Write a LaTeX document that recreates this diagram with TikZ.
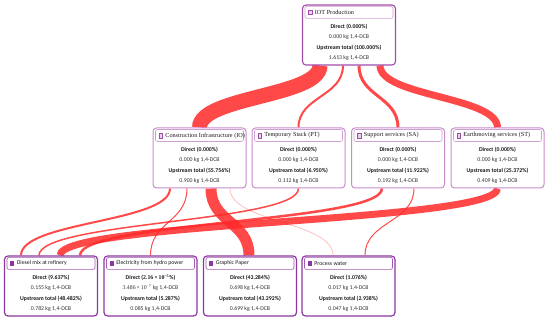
\documentclass[tikz,border=0pt]{standalone}
\usepackage{fontspec}
\setmainfont{Liberation Serif}
\newfontfamily\bodyf{Carlito}
\usetikzlibrary{calc}
\pgfdeclarelayer{bg}
\pgfsetlayers{bg,main}
\definecolor{flowred}{RGB}{255,40,40}
\definecolor{purA}{RGB}{160,75,170}
\definecolor{purB}{RGB}{200,140,205}
\definecolor{purC}{RGB}{140,55,160}
\definecolor{hdrlA}{RGB}{205,160,210}
\definecolor{hdrlC}{RGB}{160,90,175}
\definecolor{txtgray}{RGB}{50,50,50}
\newcommand\pbox[8]{%
  \node[box#3] (#1) at (#2) {};
  \node[hdr#3] (#1-h) at ($(#1.north)+(0,-8)$) {};
  \node[icon#3] (#1-i) at ($(#1-h.west)+(5.5,0)$) {};
  \node[title#3] (#1-t) at ($(#1-h.west)+(10,0)$) {#4};
  \node[txtb] (#1-a) at ($(#1.north)+(0,-22)$) {#5};
  \node[txtn] (#1-b) at ($(#1.north)+(0,-32.5)$) {#6};
  \node[txtb] (#1-c) at ($(#1.north)+(0,-43)$) {#7};
  \node[txtn] (#1-d) at ($(#1.north)+(0,-53.5)$) {#8};
}
\begin{document}
\begin{tikzpicture}[x=1pt,y=1pt,
  boxA/.style={draw=purA, line width=1.1pt, rounded corners=3.5pt, fill=white, minimum width=93pt, minimum height=60pt, inner sep=0pt},
  boxB/.style={draw=purB, line width=1pt, rounded corners=3.5pt, fill=white, minimum width=93pt, minimum height=60pt, inner sep=0pt},
  boxC/.style={draw=purC, line width=1.2pt, rounded corners=3.5pt, fill=white, minimum width=93pt, minimum height=60pt, inner sep=0pt},
  hdrA/.style={draw=hdrlA, line width=0.6pt, rounded corners=2pt, fill=white, minimum width=88pt, minimum height=12pt, inner sep=0pt},
  hdrB/.style={hdrA},
  hdrC/.style={draw=hdrlC, line width=0.6pt, rounded corners=2pt, fill=white, minimum width=88pt, minimum height=12pt, inner sep=0pt},
  iconA/.style={draw=purA, fill=purB!40, line width=0.5pt, minimum width=3.6pt, minimum height=4.6pt, inner sep=0pt},
  iconB/.style={iconA},
  iconC/.style={fill=purC, minimum width=4.2pt, minimum height=4.6pt, inner sep=0pt},
  titleA/.style={font=\rmfamily\fontsize{6.2}{7}\selectfont, inner sep=0pt, anchor=west, text=black!90},
  titleB/.style={titleA},
  titleC/.style={font=\bodyf\fontsize{5.8}{6.5}\selectfont, inner sep=0pt, anchor=west, text=black!90},
  txtb/.style={font=\bodyf\bfseries\fontsize{5.8}{6.5}\selectfont, inner sep=0pt, text=black!90},
  txtn/.style={font=\bodyf\fontsize{5.8}{6.5}\selectfont, inner sep=0pt, text=txtgray},
  flow/.style={draw=flowred, draw opacity=0.85, line cap=butt},
  paleflow/.style={draw=flowred, draw opacity=0.3, line cap=butt}]
\useasboundingbox (0,0) rectangle (550,320);
% top
\pbox{top}{349,285}{A}{IOT Production}{Direct (0.000\%)}{0.000 kg 1,4-DCB}{Upstream total (100.000\%)}{1.613 kg 1,4-DCB}
% middle
\pbox{io}{199.5,162}{B}{Construction Infrastructure (IO)}{Direct (0.000\%)}{0.000 kg 1,4-DCB}{Upstream total (55.756\%)}{0.900 kg 1,4-DCB}
\pbox{pt}{298.5,162}{B}{Temporary Stack (PT)}{Direct (0.000\%)}{0.000 kg 1,4-DCB}{Upstream total (6.950\%)}{0.112 kg 1,4-DCB}
\pbox{sa}{398,162}{B}{Support services (SA)}{Direct (0.000\%)}{0.000 kg 1,4-DCB}{Upstream total (11.922\%)}{0.192 kg 1,4-DCB}
\pbox{st}{497.5,162}{B}{Earthmoving services (ST)}{Direct (0.000\%)}{0.000 kg 1,4-DCB}{Upstream total (25.372\%)}{0.409 kg 1,4-DCB}
% bottom
\pbox{dm}{51,34}{C}{Diesel mix at refinery}{Direct (9.637\%)}{0.155 kg 1,4-DCB}{Upstream total (48.482\%)}{0.782 kg 1,4-DCB}
\pbox{el}{150.5,34}{C}{Electricity from hydro power}{Direct ({\rmfamily 2.16\,×\,10\textsuperscript{−5}}\%)}{{\rmfamily 3.486\,×\,10\textsuperscript{−7}} kg 1,4-DCB}{Upstream total (5.287\%)}{0.085 kg 1,4-DCB}
\pbox{gp}{250,34}{C}{Graphic Paper}{Direct (43.284\%)}{0.698 kg 1,4-DCB}{Upstream total (43.292\%)}{0.699 kg 1,4-DCB}
\pbox{pw}{348.5,34}{C}{Process water}{Direct (1.076\%)}{0.017 kg 1,4-DCB}{Upstream total (2.938\%)}{0.047 kg 1,4-DCB}
\begin{pgfonlayer}{bg}
% top -> middle
\draw[flow, line width=15pt] ($(top.south)+(-29,0)$) to[out=-90,in=90,distance=31pt] (io.north);
\draw[flow, line width=2pt] ($(top.south)+(-6,0)$) to[out=-90,in=90,distance=31pt] (pt.north);
\draw[flow, line width=3pt] ($(top.south)+(10,0)$) to[out=-90,in=90,distance=31pt] (sa.north);
\draw[flow, line width=7pt] ($(top.south)+(31,0)$) to[out=-90,in=90,distance=31pt] (st.north);
% middle -> bottom
\draw[flow, line width=2pt] ($(io.south)+(-29.5,0)$) to[out=-90,in=90,distance=34pt] ($(dm.north)+(-30,0)$);
\draw[flow, line width=1pt] ($(io.south)+(-12.5,0)$) to[out=-90,in=90,distance=34pt] (el.north);
\draw[flow, line width=11pt] ($(io.south)+(11.5,0)$) to[out=-90,in=90,distance=34pt] ($(gp.north)+(-1,0)$);
\draw[paleflow, line width=0.8pt] ($(io.south)+(30.5,0)$) to[out=-90,in=90,distance=34pt] ($(pw.north)+(-15.5,0)$);
\draw[flow, line width=1.5pt] (pt.south) to[out=-90,in=90,distance=34pt] ($(dm.north)+(-12,0)$);
\draw[flow, line width=2.5pt] ($(sa.south)+(-16,0)$) to[out=-90,in=90,distance=34pt] ($(dm.north)+(29,0)$);
\draw[flow, line width=1pt] ($(sa.south)+(16,0)$) to[out=-90,in=90,distance=34pt] ($(pw.north)+(16.5,0)$);
\draw[flow, line width=7pt] (st.south) to[out=-90,in=90,distance=34pt] ($(dm.north)+(9,0)$);
\end{pgfonlayer}
\end{tikzpicture}
\end{document}
